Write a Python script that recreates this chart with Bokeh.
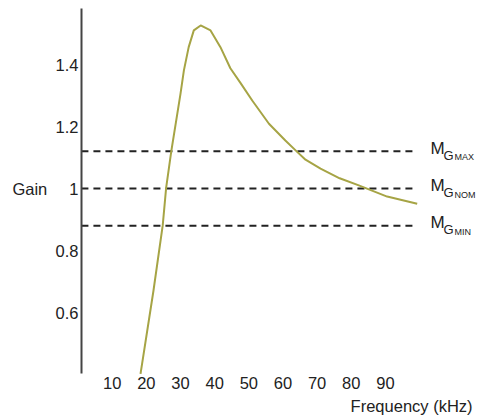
from bokeh.plotting import figure
from bokeh.models import Range1d, Label, FixedTicker
from bokeh.embed import file_html
from bokeh.resources import INLINE

# data
freq_khz = [18.3, 22.1, 24.8, 25.8, 27.3, 30.0, 31.0, 32.4, 33.9, 35.9,
            38.8, 41.7, 44.6, 47.6, 51.0, 55.9, 60.7, 63.7, 66.6, 71.0, 76.6,
            82.2, 90.5, 99.3]
gain = [0.402, 0.671, 0.881, 1.002, 1.120, 1.305, 1.381, 1.456, 1.510, 1.526,
        1.510, 1.456, 1.388, 1.340, 1.284, 1.209, 1.155, 1.123, 1.093, 1.064, 1.033,
        1.010, 0.974, 0.951]
levels = [1.12, 1.0, 0.88]
level_names = ["MAX", "NOM", "MIN"]
x_ticks = [10, 20, 30, 40, 50, 60, 70, 80, 90]
y_ticks = [0.6, 0.8, 1.0, 1.2, 1.4]
freq_extent = [1.0, 99.0]      # span of the axis / level lines
gain_extent = [0.403, 1.581]   # span of the gain axis line

FONT = "Liberation Sans"
TXT = "#222222"
FS = "16.5px"

p = figure(width=477, height=417,
           x_range=Range1d(-22.69, 116.95), y_range=Range1d(0.2613, 1.6065),
           output_backend="svg", toolbar_location=None, min_border=0)
p.outline_line_color = None
p.grid.visible = False

# axes drawn at fixed data locations
p.xaxis.fixed_location = gain_extent[0]
p.xaxis.ticker = FixedTicker(ticks=x_ticks)
p.xaxis.axis_line_color = None
p.xaxis.major_tick_line_color = None
p.xaxis.minor_tick_line_color = None
p.xaxis.major_tick_out = 0
p.xaxis.major_label_standoff = 3
p.xaxis.major_label_text_font = FONT
p.xaxis.major_label_text_font_size = FS
p.xaxis.major_label_text_color = TXT

p.yaxis.fixed_location = freq_extent[0]
p.yaxis.bounds = (gain_extent[0], gain_extent[1])
p.yaxis.ticker = FixedTicker(ticks=y_ticks)
p.yaxis.major_label_overrides = {1.0: "1"}
p.yaxis.axis_line_color = "#444444"
p.yaxis.axis_line_width = 2
p.yaxis.major_tick_line_color = None
p.yaxis.minor_tick_line_color = None
p.yaxis.major_tick_out = 0
p.yaxis.major_label_standoff = 3
p.yaxis.major_label_text_font = FONT
p.yaxis.major_label_text_font_size = FS
p.yaxis.major_label_text_color = TXT

# dashed reference levels
p.segment(x0=[freq_extent[0]] * len(levels), y0=levels,
          x1=[freq_extent[1]] * len(levels), y1=levels,
          line_color="#222222", line_width=2, line_dash="7 5")

# gain curve
p.line(freq_khz, gain, line_color="#a6a445", line_width=2, line_join="round")

# level labels M_G_xxx
for lv, nm in zip(levels, level_names):
    p.add_layout(Label(x=103.2, y=lv, text="M", y_offset=3,
                       text_font=FONT, text_font_size="17px", text_color=TXT,
                       text_baseline="middle"))
    p.add_layout(Label(x=103.2, y=lv, text="G", x_offset=13, y_offset=-4,
                       text_font=FONT, text_font_size="13px", text_color=TXT,
                       text_baseline="middle"))
    p.add_layout(Label(x=103.2, y=lv, text=nm, x_offset=24, y_offset=-6,
                       text_font=FONT, text_font_size="9px", text_color=TXT,
                       text_baseline="middle"))

# axis titles
p.add_layout(Label(x=-19.2, y=1.0, text="Gain",
                   text_font=FONT, text_font_size=FS, text_color=TXT,
                   text_baseline="middle"))
p.add_layout(Label(x=79.8, y=0.300, text="Frequency (kHz)",
                   text_font=FONT, text_font_size=FS, text_color=TXT,
                   text_baseline="middle"))

open("out.html", "w").write(file_html(p, INLINE))
